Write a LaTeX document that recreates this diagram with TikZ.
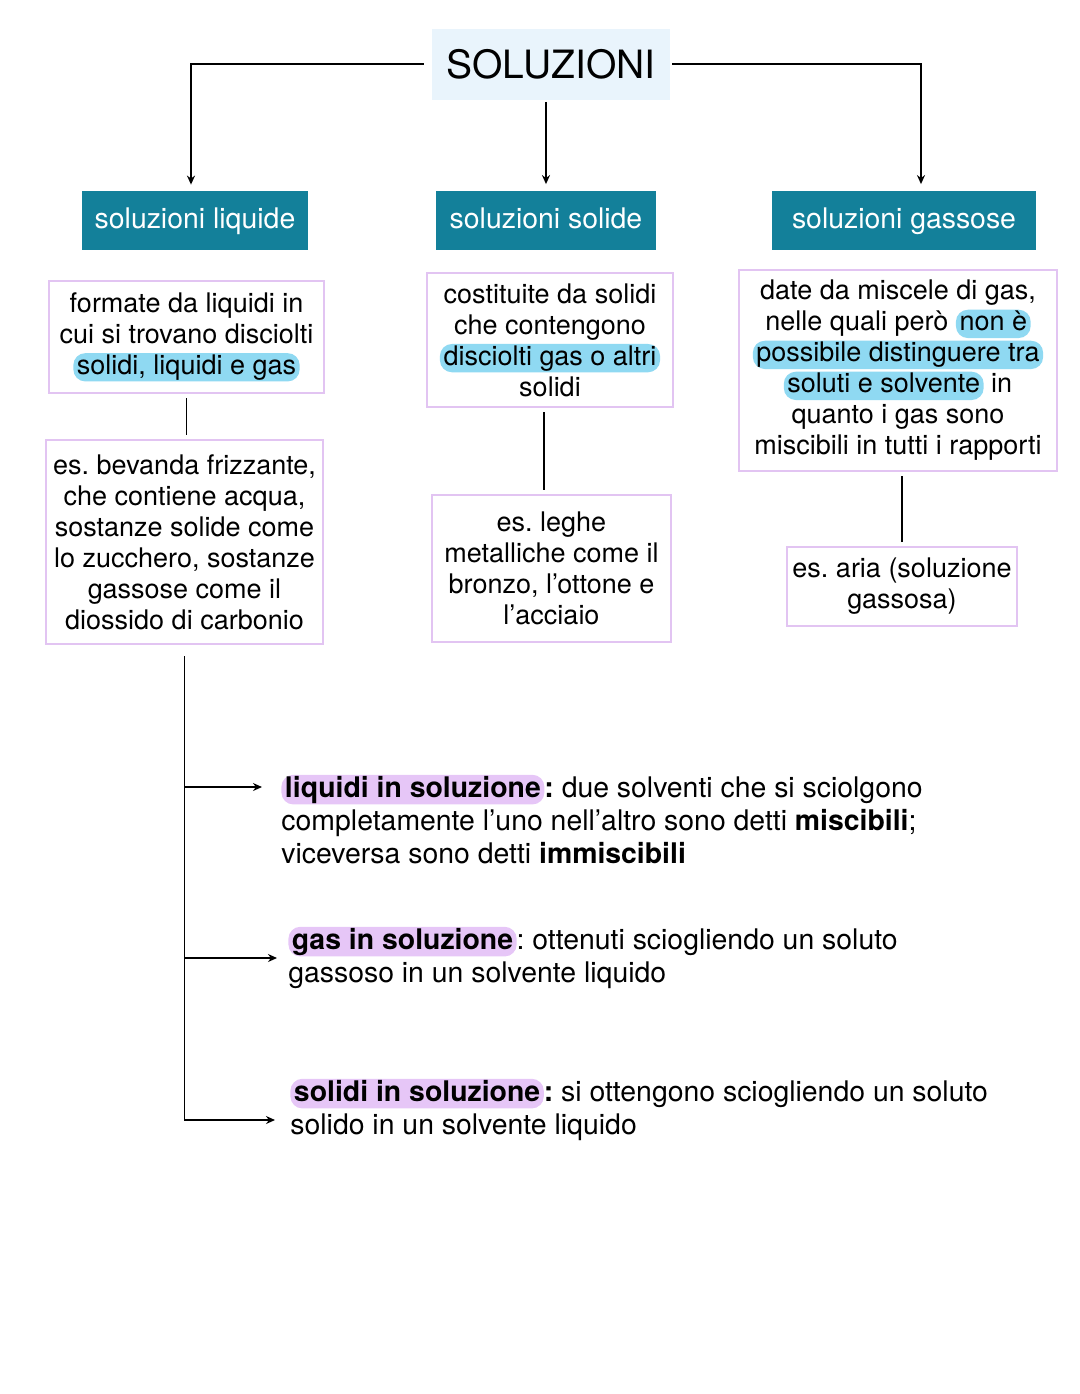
\documentclass[tikz,border=0pt]{standalone}
\usepackage{fontspec}
\setmainfont{TeX Gyre Heros}
\usetikzlibrary{arrows.meta}
\definecolor{headteal}{HTML}{13809A}
\definecolor{titlebg}{HTML}{E9F4FC}
\definecolor{boxline}{HTML}{E2C4F2}
\definecolor{bluehl}{HTML}{8FD9F2}
\definecolor{purplehl}{HTML}{E6C6F7}
\tikzset{hlbox/.style={draw=none, rounded corners=6pt, inner xsep=1.8pt, inner ysep=0.6pt,
    minimum width=0pt, minimum height=0pt, text height=0.74em, text depth=0.22em, anchor=base}}
\newcommand{\hlb}[1]{\tikz[baseline=(h.base)]\node[hlbox,fill=bluehl](h){#1};}
\newcommand{\hlp}[1]{\tikz[baseline=(h.base)]\node[hlbox,fill=purplehl](h){#1};}
\frenchspacing

\begin{document}
\begin{tikzpicture}[x=0.5pt,y=-0.5pt,
    titlenode/.style={fill=titlebg, minimum width=119pt, minimum height=35.5pt, font=\fontsize{19.5}{22}\selectfont},
    headnode/.style={fill=headteal, text=white, minimum height=29.5pt, text height=0.88em, text depth=0.08em, font=\fontsize{14.2}{16}\selectfont},
    textnode/.style={draw=boxline, line width=1pt, fill=white, align=center, inner sep=0pt, font=\fontsize{13.5}{15.5}\selectfont},
    notenode/.style={anchor=base west, align=left, inner sep=0pt, font=\fontsize{14.2}{16.5}\selectfont},
    arrow/.style={-{Stealth[length=4.5pt,width=4pt]}, line width=0.9pt},
    link/.style={line width=0.9pt, shorten <=2pt, shorten >=2pt}
    ]
    \useasboundingbox (0,0) rectangle (1080,1394);

    \node [titlenode] (sol) at (551,64) {SOLUZIONI};

    \node [headnode, minimum width=113pt] (liq) at (195,220.5) {soluzioni liquide};
    \node [headnode, minimum width=110pt] (sold) at (546,220) {soluzioni solide};
    \node [headnode, minimum width=132pt] (gas) at (904,220) {soluzioni gassose};

    \node [textnode, minimum width=137.5pt, minimum height=56pt] (liq1) at (186.5,337)
      {formate da liquidi in\\cui si trovano disciolti\\\hlb{solidi, liquidi e gas}};
    \node [textnode, minimum width=138.5pt, minimum height=102pt] (liq2) at (184.5,542)
      {es. bevanda frizzante,\\che contiene acqua,\\sostanze solide come\\lo zucchero, sostanze\\gassose come il\\diossido di carbonio};

    \node [textnode, minimum width=123pt, minimum height=67pt] (sold1) at (550,340)
      {costituite da solidi\\che contengono\\\hlb{disciolti gas o altri}\\solidi};
    \node [textnode, minimum width=119.5pt, minimum height=73.5pt] (sold2) at (551.5,568.5)
      {es. leghe\\metalliche come il\\bronzo, l’ottone e\\l’acciaio};

    \node [textnode, minimum width=159pt, minimum height=100.5pt] (gas1) at (898,370.5)
      {date da miscele di gas,\\nelle quali però \hlb{non è}\\\hlb{possibile distinguere tra}\\\hlb{soluti e solvente} in\\quanto i gas sono\\miscibili in tutti i rapporti};
    \node [textnode, minimum width=115pt, minimum height=39.5pt] (gas2) at (902,586.5)
      {es. aria (soluzione\\gassosa)};

    \node [notenode] (n1) at (281,863)
      {\hlp{\textbf{liquidi in soluzione}}\textbf{:} due solventi che si sciolgono\\completamente l’uno nell’altro sono detti \textbf{miscibili};\\viceversa sono detti \textbf{immiscibili}};
    \node [notenode] (n2) at (288,982)
      {\hlp{\textbf{gas in soluzione}}: ottenuti sciogliendo un soluto\\gassoso in un solvente liquido};
    \node [notenode] (n3) at (290,1134)
      {\hlp{\textbf{solidi in soluzione}}\textbf{:} si ottengono sciogliendo un soluto\\solido in un solvente liquido};

    % top branches
    \draw [arrow, shorten <=4pt, shorten >=3pt] (sol.west) -| ([xshift=-2pt]liq.north);
    \draw [arrow, shorten <=1pt, shorten >=3pt] (sol.south -| sold.north) -- (sold.north);
    \draw [arrow, shorten <=1pt, shorten >=3pt] (sol.east) -| ([xshift=8.5pt]gas.north);

    \draw [link] (liq1.south) -- (liq1.south |- liq2.north);
    \draw [link] ([xshift=-3pt]sold1.south) -- ([xshift=-3pt]sold1.south |- sold2.north);
    \draw [link] (gas2.north) -- (gas2.north |- gas1.south);

    % bottom branches
    \coordinate (k1) at (262,787);
    \coordinate (k2) at (277,958);
    \coordinate (k3) at (275,1120);
    \draw [arrow] ([yshift=-5.5pt]liq2.south) |- (k3);
    \draw [arrow] (liq2.south |- k1) -- (k1);
    \draw [arrow] (liq2.south |- k2) -- (k2);
\end{tikzpicture}
\end{document}
